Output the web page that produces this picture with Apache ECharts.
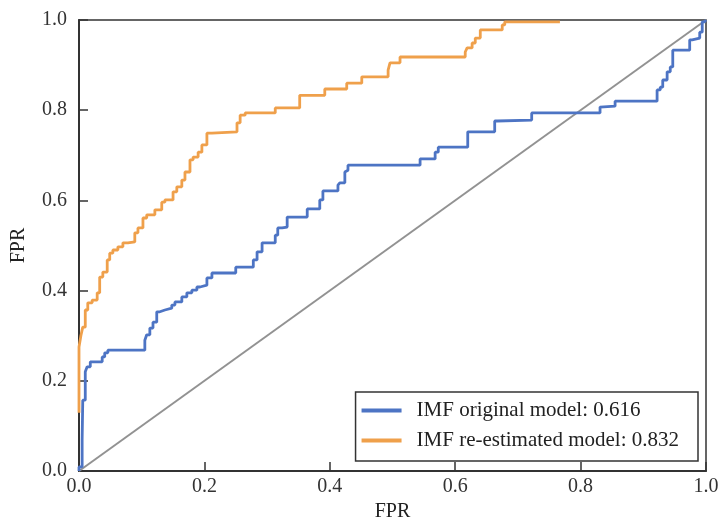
<!DOCTYPE html>
<html>
<head>
<meta charset="utf-8">
<script src="https://cdn.jsdelivr.net/npm/echarts@6/dist/echarts.min.js"></script>
<style>html,body{margin:0;padding:0;background:#fff;}#c{width:721px;height:520px;}</style>
</head>
<body>
<div id="c"></div>
<script>
// Axis ticks
var xTicks = [0.0, 0.2, 0.4, 0.6, 0.8, 1.0];
var yTicks = [0.0, 0.2, 0.4, 0.6, 0.8, 1.0];
var xAxisName = "FPR";
var yAxisName = "FPR";

// IMF original model (AUC 0.616)
var origName = "IMF original model: 0.616";
var origX = [0,0.005,0.006,0.010,0.013,0.018,0.022,0.037,0.041,0.046,0.053,0.105,0.108,0.113,0.118,0.124,0.129,0.137,0.148,0.153,0.164,0.172,0.180,0.188,0.193,0.204,0.212,0.214,0.250,0.250,0.278,0.284,0.292,0.293,0.313,0.317,0.324,0.332,0.335,0.364,0.365,0.384,0.389,0.392,0.413,0.416,0.424,0.427,0.429,0.435,0.544,0.547,0.568,0.573,0.579,0.620,0.627,0.663,0.667,0.722,0.724,0.831,0.834,0.855,0.858,0.922,0.927,0.931,0.938,0.943,0.947,0.955,0.974,0.978,0.990,0.994,0.998,1];
var origY = [0,0.009,0.069,0.157,0.220,0.231,0.242,0.242,0.253,0.262,0.268,0.268,0.290,0.302,0.317,0.330,0.353,0.357,0.361,0.368,0.375,0.386,0.395,0.401,0.408,0.412,0.428,0.439,0.439,0.452,0.452,0.468,0.486,0.506,0.506,0.523,0.539,0.541,0.563,0.563,0.581,0.581,0.601,0.621,0.621,0.634,0.639,0.663,0.667,0.678,0.678,0.692,0.692,0.707,0.718,0.718,0.752,0.752,0.776,0.778,0.794,0.794,0.807,0.809,0.820,0.820,0.845,0.851,0.867,0.885,0.896,0.933,0.933,0.956,0.960,0.973,0.996,1];

// IMF re-estimated model (AUC 0.832)
var reName = "IMF re-estimated model: 0.832";
var reX = [0,0,0.003,0.006,0.010,0.014,0.021,0.029,0.033,0.038,0.045,0.049,0.054,0.062,0.070,0.078,0.089,0.094,0.102,0.108,0.121,0.132,0.137,0.150,0.156,0.164,0.169,0.177,0.182,0.190,0.196,0.204,0.212,0.252,0.257,0.265,0.270,0.313,0.317,0.352,0.357,0.392,0.396,0.427,0.432,0.451,0.456,0.493,0.496,0.501,0.512,0.515,0.616,0.619,0.627,0.632,0.640,0.644,0.675,0.679,0.692,0.767];
var reY = [0.129,0.250,0.275,0.300,0.319,0.357,0.373,0.379,0.395,0.430,0.441,0.468,0.483,0.490,0.497,0.506,0.508,0.528,0.539,0.561,0.568,0.579,0.596,0.601,0.619,0.630,0.645,0.663,0.690,0.696,0.707,0.723,0.749,0.752,0.772,0.789,0.794,0.794,0.805,0.805,0.833,0.833,0.847,0.847,0.860,0.860,0.874,0.874,0.889,0.905,0.905,0.918,0.918,0.929,0.938,0.949,0.960,0.978,0.978,0.989,0.996,0.996];

// Chance diagonal
var diagX = [0, 1];
var diagY = [0, 1];

function pairs(xs, ys) { return xs.map(function (x, i) { return [x, ys[i]]; }); }

var font = "'Liberation Serif', 'DejaVu Serif', serif";
var chart = echarts.init(document.getElementById('c'), null, {renderer: 'canvas'});
chart.setOption({
  animation: false,
  backgroundColor: '#ffffff',
  grid: {left: 79, right: 15, top: 20, bottom: 49, show: true, borderColor: '#333', borderWidth: 1.5,
    containLabel: false, outerBoundsMode: 'none'},
  xAxis: {
    type: 'value', min: 0, max: 1, interval: 0.2,
    name: xAxisName, nameLocation: 'middle', nameGap: 28,
    nameTextStyle: {fontFamily: font, fontSize: 20, color: '#222'},
    axisLine: {show: true, lineStyle: {color: '#333', width: 2}},
    axisTick: {show: true, inside: true, length: 9, lineStyle: {color: '#333', width: 1.5}},
    axisLabel: {fontFamily: font, fontSize: 20, color: '#333', margin: 6,
      formatter: function (v) { return v.toFixed(1); }},
    splitLine: {show: false}
  },
  yAxis: {
    type: 'value', min: 0, max: 1, interval: 0.2,
    name: yAxisName, nameLocation: 'middle', nameGap: 50,
    nameTextStyle: {fontFamily: font, fontSize: 20, color: '#222'},
    axisLine: {show: true, lineStyle: {color: '#333', width: 2}},
    axisTick: {show: true, inside: true, length: 9, lineStyle: {color: '#333', width: 1.5}},
    axisLabel: {fontFamily: font, fontSize: 20, color: '#333', margin: 12,
      formatter: function (v) { return v.toFixed(1); }},
    splitLine: {show: false}
  },
  legend: {
    orient: 'vertical', right: 23, bottom: 59,
    data: [origName, reName],
    icon: 'rect', itemWidth: 40, itemHeight: 4, itemGap: 9,
    padding: [8, 19, 10, 6],
    borderColor: '#333', borderWidth: 1.5, borderRadius: 0,
    backgroundColor: '#fff',
    textStyle: {fontFamily: font, fontSize: 21, color: '#222', padding: [0, 0, 0, 10], lineHeight: 21}
  },
  series: [
    {type: 'line', name: 'diag', data: pairs(diagX, diagY), showSymbol: false, silent: true,
      lineStyle: {color: '#929292', width: 2}, z: 1},
    {type: 'line', name: origName, data: pairs(origX, origY), step: 'start', showSymbol: false,
      lineStyle: {color: '#4d74c4', width: 2.8}, itemStyle: {color: '#4d74c4'}, z: 3},
    {type: 'line', name: reName, data: pairs(reX, reY), step: 'start', showSymbol: false,
      lineStyle: {color: '#efa04b', width: 2.8}, itemStyle: {color: '#efa04b'}, z: 4}
  ]
});
</script>
</body>
</html>
